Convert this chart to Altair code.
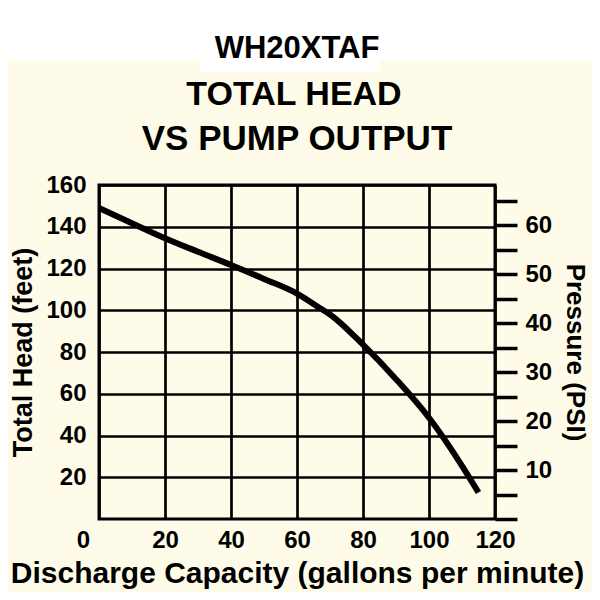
import altair as alt
import pandas as pd

# --- data ---
gpm = [0, 10, 20, 30, 40, 50, 60, 67, 70, 80, 90, 100, 110, 115]
head_ft = [149, 141.7, 134.5, 128, 121.7, 115, 108, 101, 98, 83.5, 67, 48.5, 25.5, 12.7]
x_ticks = [0, 20, 40, 60, 80, 100, 120]
y_ticks = [20, 40, 60, 80, 100, 120, 140, 160]
psi_ticks = [0, 5, 10, 15, 20, 25, 30, 35, 40, 45, 50, 55, 60, 65]
HEAD_MAX = 160
PSI_MAX = 68.2  # pressure value at the top of the plot

model = "WH20XTAF"
title_lines = ["TOTAL HEAD", "VS PUMP OUTPUT"]
x_title = "Discharge Capacity (gallons per minute)"
y_title = "Total Head (feet)"
y2_title = "Pressure (PSI)"

df = pd.DataFrame({"gpm": gpm, "head": head_ft})
df["psi"] = df["head"] * PSI_MAX / HEAD_MAX

FONT = "Liberation Sans"
CREAM = "#FEFCE8"

W, H = 396, 334
OX, OY = 99, 185  # plot origin on the page

dummy = pd.DataFrame({"a": [0]})

band = alt.Chart(dummy).mark_rect(color="white").encode(
    x=alt.value(-OX), x2=alt.value(600 - OX),
    y=alt.value(-OY), y2=alt.value(60 - OY),
)
box = alt.Chart(dummy).mark_rect(color="white").encode(
    x=alt.value(200 - OX), x2=alt.value(380 - OX),
    y=alt.value(-OY), y2=alt.value(72 - OY),
)

t0 = alt.Chart(dummy).mark_text(
    text=model, font=FONT, fontSize=31, fontWeight="bold", color="black",
    align="center", baseline="middle",
).encode(x=alt.value(297 - OX), y=alt.value(49 - OY))
t1 = alt.Chart(dummy).mark_text(
    text=title_lines[0], font=FONT, fontSize=34, fontWeight="bold", color="black",
    align="center", baseline="middle",
).encode(x=alt.value(294 - OX), y=alt.value(95 - OY))
t2 = alt.Chart(dummy).mark_text(
    text=title_lines[1], font=FONT, fontSize=35, fontWeight="bold", color="black",
    align="center", baseline="middle",
).encode(x=alt.value(297 - OX), y=alt.value(139 - OY))

line = alt.Chart(df).mark_line(
    color="black", strokeWidth=6, interpolate="monotone", strokeCap="butt"
).encode(
    x=alt.X("gpm:Q", scale=alt.Scale(domain=[0, 120], nice=False),
            axis=alt.Axis(values=x_ticks, grid=True, gridColor="black", gridWidth=2.7,
                          gridOpacity=1, tickSize=0, domain=False, labelFlush=False,
                          labelFont=FONT, labelFontSize=24, labelFontWeight="bold",
                          labelColor="black", labelPadding=9,
                          labelOffset={"condition": {"test": "datum.value === 0", "value": -16}, "value": 0},
                          title=x_title, titleFont=FONT, titleFontSize=30,
                          titleFontWeight="bold", titleColor="black", titlePadding=6)),
    y=alt.Y("head:Q", scale=alt.Scale(domain=[0, HEAD_MAX], nice=False),
            axis=alt.Axis(values=y_ticks, grid=True, gridColor="black", gridWidth=2.7,
                          gridOpacity=1, tickSize=0, domain=False, labelFlush=False,
                          labelFont=FONT, labelFontSize=24, labelFontWeight="bold",
                          labelColor="black", labelPadding=13,
                          title=y_title, titleFont=FONT, titleFontSize=27,
                          titleFontWeight="bold", titleColor="black", titlePadding=8)),
)

right = alt.Chart(df).mark_point(opacity=0).encode(
    x=alt.X("gpm:Q", scale=alt.Scale(domain=[0, 120], nice=False)),
    y=alt.Y("psi:Q", scale=alt.Scale(domain=[0, PSI_MAX], nice=False),
            axis=alt.Axis(orient="right", values=psi_ticks, grid=False, domain=False,
                          tickSize=22, tickWidth=3.5, tickColor="black", labelFlush=False,
                          labelExpr="(datum.value % 10 === 0 && datum.value > 0) ? datum.label : ''",
                          labelFont=FONT, labelFontSize=24, labelFontWeight="bold",
                          labelColor="black", labelPadding=8,
                          title=y2_title, titleAngle=90, titleFont=FONT, titleFontSize=26,
                          titleFontWeight="bold", titleColor="black", titlePadding=10)),
)

chart = alt.layer(band, box, t0, t1, t2, line, right).resolve_scale(
    y="independent"
).properties(
    width=W, height=H,
    autosize=alt.AutoSizeParams(type="none"),
    padding={"left": 91, "top": 177, "right": 97, "bottom": 73},
    background=CREAM,
).configure_view(stroke="black", strokeWidth=3, fill=None)

chart.save("out.html", embed_options={"renderer": "svg", "actions": False})
